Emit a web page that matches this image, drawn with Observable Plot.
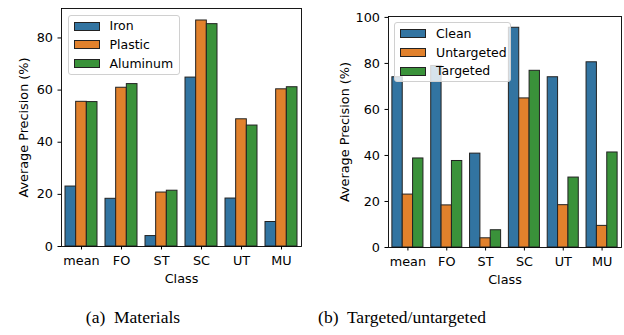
<!DOCTYPE html>
<html>
<head>
<meta charset="utf-8">
<script src="https://cdn.jsdelivr.net/npm/d3@7"></script>
<script src="https://cdn.jsdelivr.net/npm/@observablehq/plot@0.6"></script>
<style>
  html, body { margin: 0; padding: 0; background: white; }
  #fig { position: relative; width: 624px; height: 335px; font-family: "DejaVu Sans", sans-serif; }
  .panel { position: absolute; top: 0; }
  .legend { position: absolute; border: 1px solid #d0d0d0; border-radius: 3px; box-sizing: border-box; }
  .legend .row { position: absolute; left: 0; height: 0; }
  .legend .patch { position: absolute; left: 5px; width: 26px; height: 9px; box-sizing: border-box; border: 1px solid #222; top: -4.5px; }
  .legend .lab { position: absolute; left: 41px; top: -8px; font-size: 12.5px; line-height: 16px; white-space: nowrap; color: #000; }
  .cap { position: absolute; font-family: "Liberation Serif", "Times New Roman", serif; font-size: 17.5px; white-space: pre; transform: translateX(-50%); top: 307px; color: #000; }
</style>
</head>
<body>
<div id="fig"></div>
<script>
// ---- data ----
const classes = ["mean", "FO", "ST", "SC", "UT", "MU"];
const materials = ["Iron", "Plastic", "Aluminum"];
const ironAP = [23.0, 18.3, 4.0, 64.8, 18.4, 9.4];
const plasticAP = [55.5, 60.9, 20.7, 86.7, 48.8, 60.3];
const aluminumAP = [55.4, 62.3, 21.4, 85.3, 46.4, 61.1];
const attacks = ["Clean", "Untargeted", "Targeted"];
const cleanAP = [74.0, 78.9, 40.8, 95.5, 74.0, 80.5];
const untargetedAP = [23.0, 18.3, 4.0, 64.8, 18.4, 9.4];
const targetedAP = [38.7, 37.6, 7.5, 76.8, 30.4, 41.3];
const leftTicks = [0, 20, 40, 60, 80];
const rightTicks = [0, 20, 40, 60, 80, 100];
const captions = ["(a)  Materials", "(b)  Targeted/untargeted"];

const palette = ["#3274a1", "#e1812c", "#3a923a"];

function toRows(series, values) {
  const rows = [];
  series.forEach((s, si) => {
    values[si].forEach((v, ci) => rows.push({cls: classes[ci], ci, series: s, si, v}));
  });
  return rows;
}

function makePanel(series, values, yMax, yTicks, m, labelOffset) {
  const rows = toRows(series, values);
  const w = 0.8 / series.length;
  return Plot.plot({
    width: 312,
    height: 290,
    marginLeft: m.left,
    marginRight: m.right,
    marginTop: m.top,
    marginBottom: m.bottom,
    style: {fontFamily: "'DejaVu Sans', sans-serif", fontSize: "12.8px", color: "#000", background: "transparent"},
    x: {type: "linear", domain: [-0.5, classes.length - 0.5]},
    y: {domain: [0, yMax]},
    color: {domain: series, range: palette},
    marks: [
      Plot.rect(rows, {
        x1: d => d.ci - 0.4 + d.si * w,
        x2: d => d.ci - 0.4 + (d.si + 1) * w,
        y1: 0,
        y2: "v",
        fill: "series",
        stroke: "#222",
        strokeWidth: 1
      }),
      Plot.frame({stroke: "#000", strokeWidth: 0.9}),
      Plot.axisX({
        ticks: classes.map((c, i) => i),
        tickFormat: i => classes[i],
        tickSize: 3.5,
        tickPadding: 6,
        fontSize: 12.8,
        label: "Class",
        labelAnchor: "center",
        labelOffset: 36,
        labelArrow: "none"
      }),
      Plot.axisY({
        ticks: yTicks,
        tickSize: 3.5,
        tickPadding: 5,
        fontSize: 12.8,
        label: "Average Precision (%)",
        labelAnchor: "center",
        labelOffset: labelOffset,
        labelArrow: "none"
      })
    ]
  });
}

function makeLegend(plot, series, box) {
  const color = plot.scale("color");
  const lg = document.createElement("div");
  lg.className = "legend";
  lg.style.left = box.left + "px";
  lg.style.top = box.top + "px";
  lg.style.width = box.width + "px";
  lg.style.height = box.height + "px";
  lg.style.background = "rgba(255,255,255,0.8)";
  series.forEach((s, i) => {
    const row = document.createElement("div");
    row.className = "row";
    row.style.top = (10.5 + i * 18.8) + "px";
    const p = document.createElement("div");
    p.className = "patch";
    p.style.background = color.apply(s);
    const t = document.createElement("div");
    t.className = "lab";
    t.textContent = s;
    row.appendChild(p);
    row.appendChild(t);
    lg.appendChild(row);
  });
  return lg;
}

const fig = document.getElementById("fig");

const left = makePanel(materials, [ironAP, plasticAP, aluminumAP], 91.3, leftTicks,
  {left: 61, right: 11, top: 8, bottom: 44}, 43);
const right = makePanel(attacks, [cleanAP, untargetedAP, targetedAP], 100.4, rightTicks,
  {left: 76, right: 3, top: 16, bottom: 43}, 49);

const lw = document.createElement("div");
lw.className = "panel"; lw.style.left = "0px";
lw.appendChild(left);
fig.appendChild(lw);
const rw = document.createElement("div");
rw.className = "panel"; rw.style.left = "312px";
rw.appendChild(right);
fig.appendChild(rw);

fig.appendChild(makeLegend(left, materials, {left: 67.5, top: 14.5, width: 112.5, height: 60.5}));
fig.appendChild(makeLegend(right, attacks, {left: 394, top: 22.3, width: 117, height: 59.5}));

[[captions[0], 133], [captions[1], 402]].forEach(([txt, cx]) => {
  const c = document.createElement("div");
  c.className = "cap";
  c.style.left = cx + "px";
  c.textContent = txt;
  fig.appendChild(c);
});
</script>
</body>
</html>
